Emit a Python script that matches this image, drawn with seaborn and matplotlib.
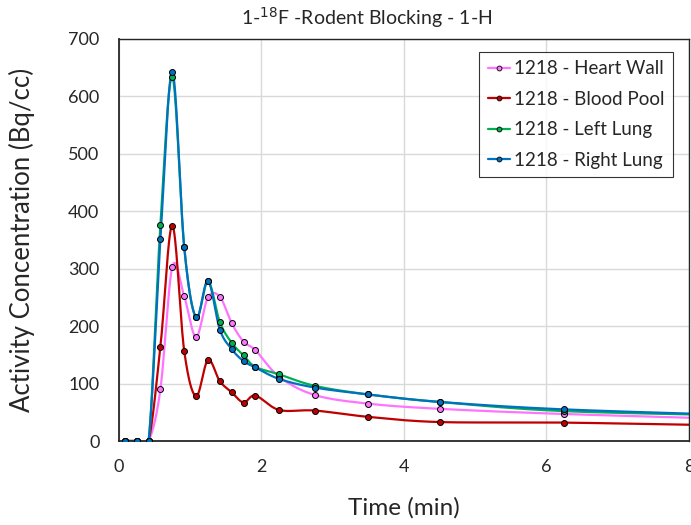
"""Time-activity curves for the rodent blocking scan."""

import numpy as np
import matplotlib
matplotlib.use("Agg")
import matplotlib.pyplot as plt
from matplotlib.lines import Line2D
import seaborn as sns

# Frame mid-times (min) and activity concentrations (Bq/cc)
time_min = [0.083, 0.25, 0.417, 0.583, 0.75, 0.917, 1.083, 1.25, 1.417, 1.583,
            1.75, 1.917, 2.25, 2.75, 3.5, 4.5, 6.25, 9.0]
heart_wall = [0, 0, 0, 90, 303, 252, 181, 250, 251, 205,
              173, 158, 112, 80, 65, 56, 47, 37]
blood_pool = [0, 0, 0, 164, 375, 157, 78, 141, 104, 85,
              67, 79, 54, 53, 42, 33, 32, 26]
left_lung = [0, 0, 0, 376, 634, 338, 215, 278, 207, 171,
             149, 129, 116, 96, 81, 68, 52, 44]
right_lung = [0, 0, 0, 351, 643, 338, 215, 279, 194, 160,
              139, 128, 108, 93, 81, 68, 55, 44]

series_names = ["1218 - Heart Wall", "1218 - Blood Pool",
                "1218 - Left Lung", "1218 - Right Lung"]
colors = ["#FF73FF", "#C00000", "#00B050", "#0070C0"]


def smooth(x, y, n=30):
    """Excel-like smoothed line (Catmull-Rom style Bezier)."""
    x = np.asarray(x, float)
    y = np.asarray(y, float)
    xs, ys = [], []
    for i in range(len(x) - 1):
        x0, y0 = (x[i - 1], y[i - 1]) if i > 0 else (x[i], y[i])
        x3, y3 = (x[i + 2], y[i + 2]) if i + 2 < len(x) else (x[i + 1], y[i + 1])
        p1 = np.array([x[i], y[i]])
        p2 = np.array([x[i + 1], y[i + 1]])
        c1 = p1 + (p2 - np.array([x0, y0])) / 6
        c2 = p2 - (np.array([x3, y3]) - p1) / 6
        t = np.linspace(0, 1, n)[:, None]
        pts = ((1 - t) ** 3) * p1 + 3 * ((1 - t) ** 2) * t * c1 \
            + 3 * (1 - t) * t ** 2 * c2 + t ** 3 * p2
        xs.extend(pts[:, 0])
        ys.extend(pts[:, 1])
    return np.array(xs), np.array(ys)


sns.set_style("white")
plt.rcParams["font.family"] = ["Lato", "DejaVu Sans"]

fig = plt.figure(figsize=(6.91, 5.25), dpi=100)
ax = fig.add_axes([0.172, 0.16, 0.825, 0.766])

data = [heart_wall, blood_pool, left_lung, right_lung]
handles = []
for values, name, color in zip(data, series_names, colors):
    sx, sy = smooth(time_min, values)
    sns.lineplot(x=sx, y=sy, ax=ax, color=color, linewidth=1.6,
                 sort=False, estimator=None, zorder=2)
    ax.plot(time_min, values, linestyle="none", marker="o", markersize=4.3,
            markerfacecolor=color, markeredgecolor="black",
            markeredgewidth=0.7, zorder=3)
    handles.append(Line2D([], [], color=color, linewidth=1.6, marker="o",
                          markersize=3.5, markerfacecolor=color,
                          markeredgecolor="black", markeredgewidth=0.6))

ax.set_xlim(0, 8)
ax.set_ylim(0, 700)
ax.set_xticks([0, 2, 4, 6, 8])
ax.set_yticks(range(0, 701, 100))
ax.grid(True, color="#d9d9d9", linewidth=1)
ax.set_axisbelow(True)
ax.tick_params(length=0, labelsize=13)
ax.tick_params(axis="y", pad=14)
ax.tick_params(axis="x", pad=13)

for side in ["left", "bottom"]:
    ax.spines[side].set_color("#262626")
    ax.spines[side].set_linewidth(1.3)
for side in ["top", "right"]:
    ax.spines[side].set_color("#262626")
    ax.spines[side].set_linewidth(1.0)

ax.set_xlabel("Time (min)", fontsize=17.5, labelpad=16)
ax.set_ylabel("Activity Concentration (Bq/cc)", fontsize=18.5, labelpad=24)
fig.text(0.531, 0.966, "1-$^{18}$F -Rodent Blocking - 1-H", fontsize=14,
         ha="center", va="center")

leg = ax.legend(handles, series_names, loc="upper right",
                bbox_to_anchor=(0.972, 0.968), borderaxespad=0,
                fontsize=13.5, frameon=True,
                fancybox=False, edgecolor="black", handlelength=1.2,
                handletextpad=0.2, borderpad=0.45, labelspacing=0.72)
leg.get_frame().set_linewidth(0.8)

fig.savefig("out.png", dpi=100)
